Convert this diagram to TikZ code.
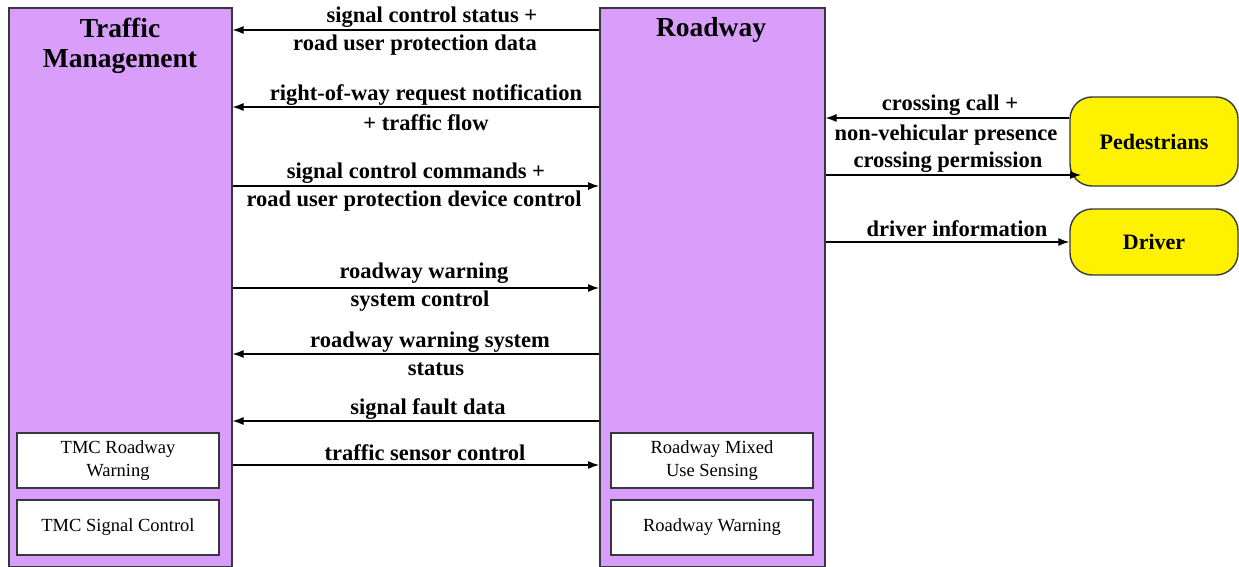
\documentclass[tikz,border=0pt]{standalone}
\usepackage{fontspec}
\setmainfont{Liberation Serif}
\usetikzlibrary{arrows.meta}
\definecolor{boxpurple}{RGB}{216,158,250}
\definecolor{edgegray}{RGB}{55,55,65}
\tikzset{
  bigbox/.style={draw=edgegray, line width=1.6pt, fill=boxpurple, minimum width=#1, inner sep=0pt, anchor=north west},
  subbox/.style={draw=edgegray, line width=1.2pt, fill=white, minimum width=202pt, minimum height=55pt, inner sep=0pt, align=center, font=\fontsize{18.5}{23}\selectfont},
  actor/.style={draw=edgegray, line width=1.4pt, fill=yellow, rounded corners=22pt, minimum width=168pt, inner sep=0pt, font=\bfseries\fontsize{22}{26}\selectfont},
  title/.style={font=\bfseries\fontsize{27.5}{30}\selectfont, align=center, inner sep=0pt},
  lbl/.style={font=\bfseries\fontsize{22.5}{26}\selectfont, inner sep=0pt},
  flow/.style={line width=1.2pt, -{Latex[length=11pt,width=8pt]}},
}
\begin{document}
\begin{tikzpicture}[x=1pt,y=-1pt]
\useasboundingbox (0,0) rectangle (1239,567);
% main boxes
\node[bigbox=223pt, minimum height=559pt] (tm) at (8,7) {};
\node[bigbox=225pt, minimum height=559pt] (rw) at (599,7) {};
\node[title] (tmtitle) at (120,46) {Traffic\\Management};
\node[title] (rwtitle) at (711,30) {Roadway};
% sub boxes
\node[subbox] (tmcrw) at (118,460.5) {TMC Roadway\\Warning};
\node[subbox] (tmcsc) at (118,527.5) {TMC Signal Control};
\node[subbox] (rwmus) at (712,460.5) {Roadway Mixed\\Use Sensing};
\node[subbox] (rwwarn) at (712,527.5) {Roadway Warning};
% actors
\node[actor, minimum height=89pt] (ped) at (1154,141.5) {Pedestrians};
\node[actor, minimum height=66pt] (drv) at (1154,242) {Driver};
% flows between TM and Roadway
\draw[flow] (rw.west |- 0,30) -- (tm.east |- 0,30);
\node[lbl] (l1a) at (432,17) {signal control status +};
\node[lbl] (l1b) at (415,45) {road user protection data};
\draw[flow] (rw.west |- 0,107) -- (tm.east |- 0,107);
\node[lbl] (l2a) at (426,95) {right-of-way request notification};
\node[lbl] (l2b) at (426,123) {+ traffic flow};
\draw[flow] (tm.east |- 0,186) -- (rw.west |- 0,186);
\node[lbl] (l3a) at (416,173) {signal control commands +};
\node[lbl] (l3b) at (414,201) {road user protection device control};
\draw[flow] (tm.east |- 0,288) -- (rw.west |- 0,288);
\node[lbl] (l4a) at (424,273) {roadway warning};
\node[lbl] (l4b) at (420,301) {system control};
\draw[flow] (rw.west |- 0,354) -- (tm.east |- 0,354);
\node[lbl] (l5a) at (430,342) {roadway warning system};
\node[lbl] (l5b) at (436,369) {status};
\draw[flow] (rw.west |- 0,421) -- (tm.east |- 0,421);
\node[lbl] (l6) at (428,409) {signal fault data};
\draw[flow] (tm.east |- 0,465) -- (rw.west |- 0,465);
\node[lbl] (l7) at (425,453) {traffic sensor control};
% flows to actors
\draw[flow] (ped.west |- 0,118) -- (rw.east |- 0,118);
\node[lbl] (l8a) at (950,105) {crossing call +};
\node[lbl] (l8b) at (946,135) {non-vehicular presence};
\coordinate (pedin) at (1081,175);
\draw[flow] (rw.east |- pedin) -- (pedin);
\node[lbl] (l9) at (948,162) {crossing permission};
\draw[flow] (rw.east |- 0,242) -- (drv.west);
\node[lbl] (l10) at (957,229) {driver information};
\end{tikzpicture}
\end{document}
